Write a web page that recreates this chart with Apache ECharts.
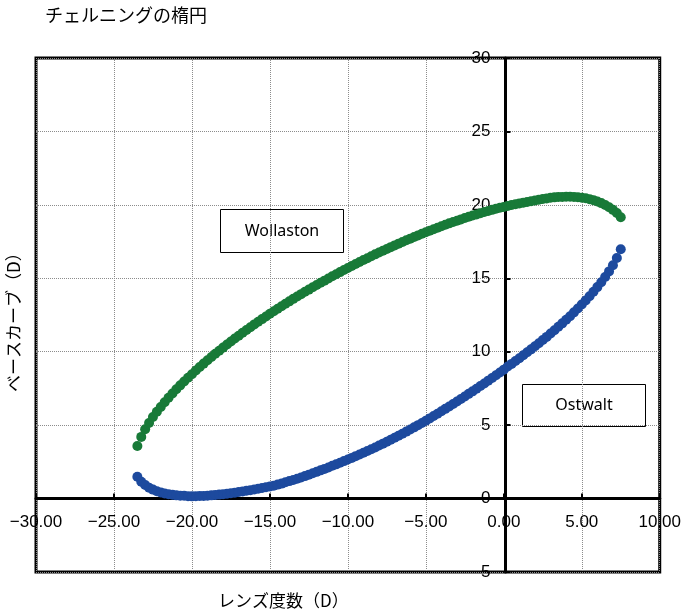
<!DOCTYPE html>
<html>
<head>
<meta charset="utf-8">
<script src="https://cdn.jsdelivr.net/npm/echarts@6/dist/echarts.min.js"></script>
<style>
  html, body { margin: 0; padding: 0; background: #fff; }
  #chart { width: 684px; height: 612px; }
</style>
</head>
<body>
<div id="chart"></div>
<script>
// レンズ度数 (D)
const lensPower = [
  -23.5, -23.25, -23, -22.75, -22.5, -22.25, -22, -21.75, -21.5, -21.25,
  -21, -20.75, -20.5, -20.25, -20, -19.75, -19.5, -19.25, -19, -18.75,
  -18.5, -18.25, -18, -17.75, -17.5, -17.25, -17, -16.75, -16.5, -16.25,
  -16, -15.75, -15.5, -15.25, -15, -14.75, -14.5, -14.25, -14, -13.75,
  -13.5, -13.25, -13, -12.75, -12.5, -12.25, -12, -11.75, -11.5, -11.25,
  -11, -10.75, -10.5, -10.25, -10, -9.75, -9.5, -9.25, -9, -8.75,
  -8.5, -8.25, -8, -7.75, -7.5, -7.25, -7, -6.75, -6.5, -6.25,
  -6, -5.75, -5.5, -5.25, -5, -4.75, -4.5, -4.25, -4, -3.75,
  -3.5, -3.25, -3, -2.75, -2.5, -2.25, -2, -1.75, -1.5, -1.25,
  -1, -0.75, -0.5, -0.25, 0, 0.25, 0.5, 0.75, 1, 1.25,
  1.5, 1.75, 2, 2.25, 2.5, 2.75, 3, 3.25, 3.5, 3.75,
  4, 4.25, 4.5, 4.75, 5, 5.25, 5.5, 5.75, 6, 6.25,
  6.5, 6.75, 7, 7.25, 7.5
];

// Wollaston (上側)
const wollaston = [
  3.58, 4.2, 4.72, 5.15, 5.55, 5.91, 6.24, 6.56, 6.86, 7.16,
  7.44, 7.71, 7.97, 8.23, 8.47, 8.72, 8.96, 9.19, 9.42, 9.64,
  9.86, 10.07, 10.28, 10.49, 10.70, 10.90, 11.09, 11.29, 11.48, 11.67,
  11.86, 12.04, 12.22, 12.40, 12.58, 12.75, 12.93, 13.10, 13.27, 13.43,
  13.60, 13.76, 13.92, 14.08, 14.23, 14.39, 14.54, 14.69, 14.84, 14.99,
  15.14, 15.28, 15.42, 15.56, 15.70, 15.84, 15.97, 16.11, 16.24, 16.37,
  16.50, 16.63, 16.75, 16.88, 17.00, 17.12, 17.24, 17.36, 17.47, 17.59,
  17.70, 17.81, 17.92, 18.03, 18.14, 18.24, 18.34, 18.44, 18.54, 18.64,
  18.74, 18.83, 18.92, 19.01, 19.10, 19.19, 19.27, 19.35, 19.43, 19.51,
  19.58, 19.66, 19.73, 19.80, 19.86, 19.93, 19.99, 20.04, 20.10, 20.15,
  20.20, 20.25, 20.30, 20.35, 20.40, 20.44, 20.48, 20.51, 20.53, 20.54,
  20.55, 20.55, 20.54, 20.52, 20.49, 20.45, 20.39, 20.32, 20.23, 20.12,
  19.99, 19.84, 19.66, 19.44, 19.16
];

// Ostwalt (下側)
const ostwalt = [
  1.48, 1.14, 0.92, 0.74, 0.61, 0.50, 0.42, 0.35, 0.30, 0.26,
  0.22, 0.20, 0.19, 0.16, 0.15, 0.16, 0.17, 0.18, 0.20, 0.22,
  0.24, 0.27, 0.30, 0.33, 0.37, 0.40, 0.45, 0.48, 0.53, 0.57,
  0.62, 0.67, 0.72, 0.77, 0.82, 0.88, 0.95, 1.02, 1.11, 1.19,
  1.27, 1.35, 1.44, 1.53, 1.63, 1.72, 1.82, 1.92, 2.02, 2.12,
  2.23, 2.33, 2.44, 2.55, 2.66, 2.77, 2.89, 3.00, 3.12, 3.24,
  3.36, 3.48, 3.61, 3.74, 3.87, 4.00, 4.14, 4.28, 4.42, 4.56,
  4.70, 4.85, 5.00, 5.15, 5.30, 5.46, 5.62, 5.78, 5.94, 6.11,
  6.27, 6.44, 6.61, 6.78, 6.95, 7.13, 7.30, 7.48, 7.66, 7.84,
  8.03, 8.21, 8.40, 8.59, 8.78, 8.99, 9.17, 9.37, 9.56, 9.76,
  9.96, 10.16, 10.37, 10.58, 10.80, 11.01, 11.24, 11.46, 11.70, 11.93,
  12.18, 12.42, 12.68, 12.94, 13.21, 13.49, 13.78, 14.08, 14.40, 14.73,
  15.09, 15.47, 15.89, 16.38, 16.98
];

const chart = echarts.init(document.getElementById('chart'));

const numFont = 'Liberation Sans';
const jpFont = '"Noto Sans CJK JP", sans-serif';

// grid: 36..662 x 58..572, axes drawn through the origin by offset
const gridLeft = 36, gridTop = 58, gridRight = 22, gridBottom = 40;
const plotW = 684 - gridLeft - gridRight;
const plotH = 612 - gridTop - gridBottom;

chart.setOption({
  animation: false,
  title: {
    text: 'チェルニングの楕円',
    left: 40,
    top: 1,
    textStyle: { fontFamily: jpFont, fontSize: 18, fontWeight: 'normal', color: '#000' }
  },
  grid: {
    left: gridLeft,
    top: gridTop,
    right: gridRight,
    bottom: gridBottom,
    show: true,
    borderColor: '#000',
    borderWidth: 3
  },
  xAxis: {
    type: 'value',
    min: -30,
    max: 10,
    interval: 5,
    position: 'bottom',
    offset: -plotH * 5 / 35,
    axisLine: { onZero: false, lineStyle: { color: '#000', width: 3 } },
    axisTick: { show: true, inside: true, length: 5, lineStyle: { color: '#000', width: 2 } },
    axisLabel: {
      margin: 15,
      color: '#000',
      fontFamily: numFont,
      fontSize: 17,
      formatter: v => v.toFixed(2).replace('-', '\u2212')
    },
    splitLine: { show: true, lineStyle: { color: '#8c8c8c', type: 'dotted', width: 1 } }
  },
  yAxis: {
    type: 'value',
    min: -5,
    max: 30,
    interval: 5,
    position: 'left',
    offset: -plotW * 30 / 40,
    axisLine: { onZero: false, lineStyle: { color: '#000', width: 3 } },
    axisTick: { show: true, inside: true, length: 5, lineStyle: { color: '#000', width: 2 } },
    axisLabel: {
      margin: 15,
      color: '#000',
      fontFamily: numFont,
      fontSize: 17,
      formatter: v => String(Math.abs(v))
    },
    splitLine: { show: true, lineStyle: { color: '#8c8c8c', type: 'dotted', width: 1 } }
  },
  graphic: [
    {
      type: 'text',
      left: 218,
      top: 592,
      style: { text: 'レンズ度数（D）', font: '17px "Noto Sans CJK JP"', fill: '#000' }
    },
    {
      type: 'text',
      x: 5,
      y: 392,
      rotation: Math.PI / 2,
      style: { text: 'ベースカーブ（D）', font: '17px "Noto Sans CJK JP"', fill: '#000' }
    },
    {
      type: 'group',
      left: 220,
      top: 209,
      children: [
        { type: 'rect', shape: { x: 0, y: 0, width: 123, height: 43 },
          style: { fill: '#fff', stroke: '#000', lineWidth: 1 } },
        { type: 'text', x: 61.5, y: 21.5,
          style: { text: 'Wollaston', font: '16px "Noto Sans"', fill: '#000', align: 'center', verticalAlign: 'middle' } }
      ]
    },
    {
      type: 'group',
      left: 522,
      top: 384,
      children: [
        { type: 'rect', shape: { x: 0, y: 0, width: 123, height: 42 },
          style: { fill: '#fff', stroke: '#000', lineWidth: 1 } },
        { type: 'text', x: 61.5, y: 21,
          style: { text: 'Ostwalt', font: '16px "Noto Sans"', fill: '#000', align: 'center', verticalAlign: 'middle' } }
      ]
    }
  ],
  series: [
    {
      name: 'Wollaston',
      type: 'scatter',
      symbol: 'circle',
      symbolSize: 10,
      itemStyle: { color: '#187a38', opacity: 1 },
      data: lensPower.map((p, i) => [p, wollaston[i]])
    },
    {
      name: 'Ostwalt',
      type: 'scatter',
      symbol: 'circle',
      symbolSize: 10,
      itemStyle: { color: '#1d4a9e', opacity: 1 },
      data: lensPower.map((p, i) => [p, ostwalt[i]])
    }
  ]
});
</script>
</body>
</html>
